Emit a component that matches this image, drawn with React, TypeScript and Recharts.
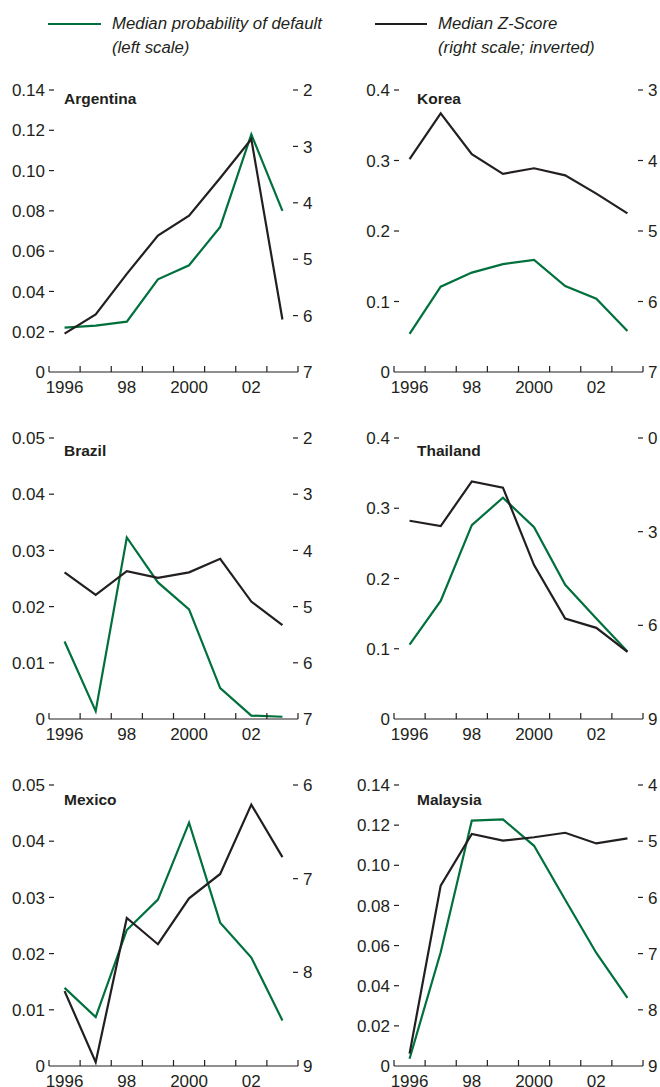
import React from "react";
import { LineChart, Line, XAxis, YAxis } from "recharts";

const FONT = '"Liberation Sans", Arial, Helvetica, sans-serif';
const INK = "#231f20";
const GREEN = "#00703c";

// years and axis ticks
const years = [1996, 1997, 1998, 1999, 2000, 2001, 2002, 2003];
const yearEdges = [1995.5, 1996.5, 1997.5, 1998.5, 1999.5, 2000.5, 2001.5, 2002.5, 2003.5];
const yearLabelYears = [1996, 1998, 2000, 2002];
const yearLabelText = ["1996", "98", "2000", "02"];

// median probability of default (left scale)
const argentinaPd = [0.022, 0.023, 0.025, 0.046, 0.053, 0.072, 0.118, 0.08];
const koreaPd = [0.054, 0.121, 0.141, 0.153, 0.159, 0.122, 0.104, 0.058];
const brazilPd = [0.0138, 0.0014, 0.0323, 0.0243, 0.0195, 0.0055, 0.0006, 0.0004];
const thailandPd = [0.106, 0.168, 0.276, 0.315, 0.273, 0.191, 0.143, 0.096];
const mexicoPd = [0.0139, 0.0087, 0.0242, 0.0296, 0.0433, 0.0255, 0.0193, 0.0081];
const malaysiaPd = [0.0036, 0.0567, 0.1223, 0.1229, 0.1097, 0.0828, 0.0563, 0.034];

// median Z-score (right scale, inverted)
const argentinaZ = [6.32, 5.98, 5.26, 4.58, 4.23, 3.56, 2.87, 6.07];
const koreaZ = [3.98, 3.33, 3.91, 4.19, 4.11, 4.21, 4.47, 4.75];
const brazilZ = [4.39, 4.79, 4.37, 4.49, 4.39, 4.15, 4.91, 5.33];
const thailandZ = [2.65, 2.82, 1.39, 1.59, 4.07, 5.78, 6.08, 6.85];
const mexicoZ = [8.2, 8.96, 7.42, 7.7, 7.21, 6.95, 6.21, 6.77];
const malaysiaZ = [8.78, 5.79, 4.87, 4.99, 4.93, 4.85, 5.04, 4.95];

// axis ticks
const pdTicks014 = [0, 0.02, 0.04, 0.06, 0.08, 0.1, 0.12, 0.14];
const pdTicks04 = [0, 0.1, 0.2, 0.3, 0.4];
const pdTicks005 = [0, 0.01, 0.02, 0.03, 0.04, 0.05];
const zTicks27 = [2, 3, 4, 5, 6, 7];
const zTicks37 = [3, 4, 5, 6, 7];
const zTicks09 = [0, 3, 6, 9];
const zTicks69 = [6, 7, 8, 9];
const zTicks49 = [4, 5, 6, 7, 8, 9];

const panels = [
  { name: "Argentina", pd: argentinaPd, z: argentinaZ, pdTicks: pdTicks014, dec: 2, zTicks: zTicks27, col: 0, row: 0 },
  { name: "Korea", pd: koreaPd, z: koreaZ, pdTicks: pdTicks04, dec: 1, zTicks: zTicks37, col: 1, row: 0 },
  { name: "Brazil", pd: brazilPd, z: brazilZ, pdTicks: pdTicks005, dec: 2, zTicks: zTicks27, col: 0, row: 1 },
  { name: "Thailand", pd: thailandPd, z: thailandZ, pdTicks: pdTicks04, dec: 1, zTicks: zTicks09, col: 1, row: 1 },
  { name: "Mexico", pd: mexicoPd, z: mexicoZ, pdTicks: pdTicks005, dec: 2, zTicks: zTicks69, col: 0, row: 2 },
  { name: "Malaysia", pd: malaysiaPd, z: malaysiaZ, pdTicks: pdTicks014, dec: 2, zTicks: zTicks49, col: 1, row: 2 },
];

// layout
const COLS = [
  { left: 0, leftAxis: 49, rightAxis: 32, titleX: 64 },
  { left: 330, leftAxis: 64, rightAxis: 17, titleX: 87 },
];
const ROWS = [
  { top: 90, h: 282, titleY: 104.5 },
  { top: 438, h: 281, titleY: 456 },
  { top: 785, h: 281, titleY: 805 },
];
const TOP_PAD = 20;
const BOTTOM_H = 30;
const TICK_FONT = 17;

const textStyle = { fontFamily: FONT, fontSize: TICK_FONT, fill: INK };

const Panel = ({ p }: { p: any }) => {
  const col = COLS[p.col];
  const row = ROWS[p.row];
  const data = years.map((year, i) => ({ year, pd: p.pd[i], z: p.z[i] }));
  const pdMax = p.pdTicks[p.pdTicks.length - 1];
  const zMin = p.zTicks[0];
  const zMax = p.zTicks[p.zTicks.length - 1];
  const halfStep = (330 - col.leftAxis - col.rightAxis) / 16;

  const edgeTick = (props: any) => {
    const { x, y, payload } = props;
    const idx = yearLabelYears.indexOf(payload.value + 0.5);
    return (
      <g>
        <line x1={x} x2={x} y1={y} y2={y - 6} stroke={INK} strokeWidth={1.2} />
        {idx >= 0 && (
          <text x={x + halfStep} y={y + 20.5} textAnchor="middle" style={textStyle}>
            {yearLabelText[idx]}
          </text>
        )}
      </g>
    );
  };

  const leftTick = (props: any) => {
    const { x, y, payload } = props;
    const v = payload.value;
    return (
      <g>
        {v !== 0 && <line x1={x} x2={x + 5} y1={y} y2={y} stroke={INK} strokeWidth={1.2} />}
        <text x={x - 4} y={y} dy="0.36em" textAnchor="end" style={textStyle}>
          {v === 0 ? "0" : v.toFixed(p.dec)}
        </text>
      </g>
    );
  };

  const rightTick = (props: any) => {
    const { x, y, payload } = props;
    const v = payload.value;
    return (
      <g>
        {v !== zMax && <line x1={x} x2={x - 5} y1={y} y2={y} stroke={INK} strokeWidth={1.2} />}
        <text x={x + 5} y={y} dy="0.36em" textAnchor="start" style={textStyle}>
          {v}
        </text>
      </g>
    );
  };

  return (
    <div style={{ position: "absolute", left: col.left, top: row.top - TOP_PAD }}>
      <LineChart
        width={330}
        height={TOP_PAD + row.h + BOTTOM_H}
        data={data}
        margin={{ top: TOP_PAD, right: 0, bottom: 0, left: 0 }}
      >
        <XAxis
          type="number"
          dataKey="year"
          domain={[1995.5, 2003.5]}
          ticks={yearEdges}
          interval={0}
          height={BOTTOM_H}
          tickSize={0}
          tickMargin={0}
          tickLine={false}
          axisLine={{ stroke: INK, strokeWidth: 1.2 }}
          tick={edgeTick}
        />
        <YAxis
          yAxisId="pd"
          width={col.leftAxis}
          domain={[0, pdMax]}
          ticks={p.pdTicks}
          interval={0}
          tickSize={0}
          tickMargin={0}
          tickLine={false}
          axisLine={false}
          tick={leftTick}
        />
        <YAxis
          yAxisId="z"
          orientation="right"
          reversed
          width={col.rightAxis}
          domain={[zMin, zMax]}
          ticks={p.zTicks}
          interval={0}
          tickSize={0}
          tickMargin={0}
          tickLine={false}
          axisLine={false}
          tick={rightTick}
        />
        <Line
          yAxisId="pd"
          type="linear"
          dataKey="pd"
          stroke={GREEN}
          strokeWidth={2.2}
          dot={false}
          isAnimationActive={false}
        />
        <Line
          yAxisId="z"
          type="linear"
          dataKey="z"
          stroke={INK}
          strokeWidth={2.2}
          dot={false}
          isAnimationActive={false}
        />
      </LineChart>
      <div
        style={{
          position: "absolute",
          left: col.titleX,
          top: row.titleY - 13.1 - (row.top - TOP_PAD),
          fontFamily: FONT,
          fontSize: 15.5,
          lineHeight: "15.5px",
          fontWeight: "bold",
          color: INK,
          whiteSpace: "nowrap",
        }}
      >
        {p.name}
      </div>
    </div>
  );
};

const legendText: React.CSSProperties = {
  position: "absolute",
  top: 12,
  fontFamily: FONT,
  fontSize: 16.8,
  fontStyle: "italic",
  lineHeight: "23.5px",
  color: INK,
  whiteSpace: "nowrap",
};

export default function App() {
  return (
    <div
      style={{
        position: "absolute",
        left: 0,
        top: 0,
        width: 660,
        height: 1087,
        overflow: "hidden",
        background: "#ffffff",
      }}
    >
      <div style={{ position: "absolute", left: 48, top: 23, width: 53, height: 2.2, background: GREEN }} />
      <div style={{ ...legendText, left: 112 }}>
        Median probability of default
        <br />
        (left scale)
      </div>
      <div style={{ position: "absolute", left: 375, top: 23, width: 52, height: 2.2, background: INK }} />
      <div style={{ ...legendText, left: 438 }}>
        Median Z-Score
        <br />
        (right scale; inverted)
      </div>
      {panels.map((p) => (
        <Panel key={p.name} p={p} />
      ))}
    </div>
  );
}
